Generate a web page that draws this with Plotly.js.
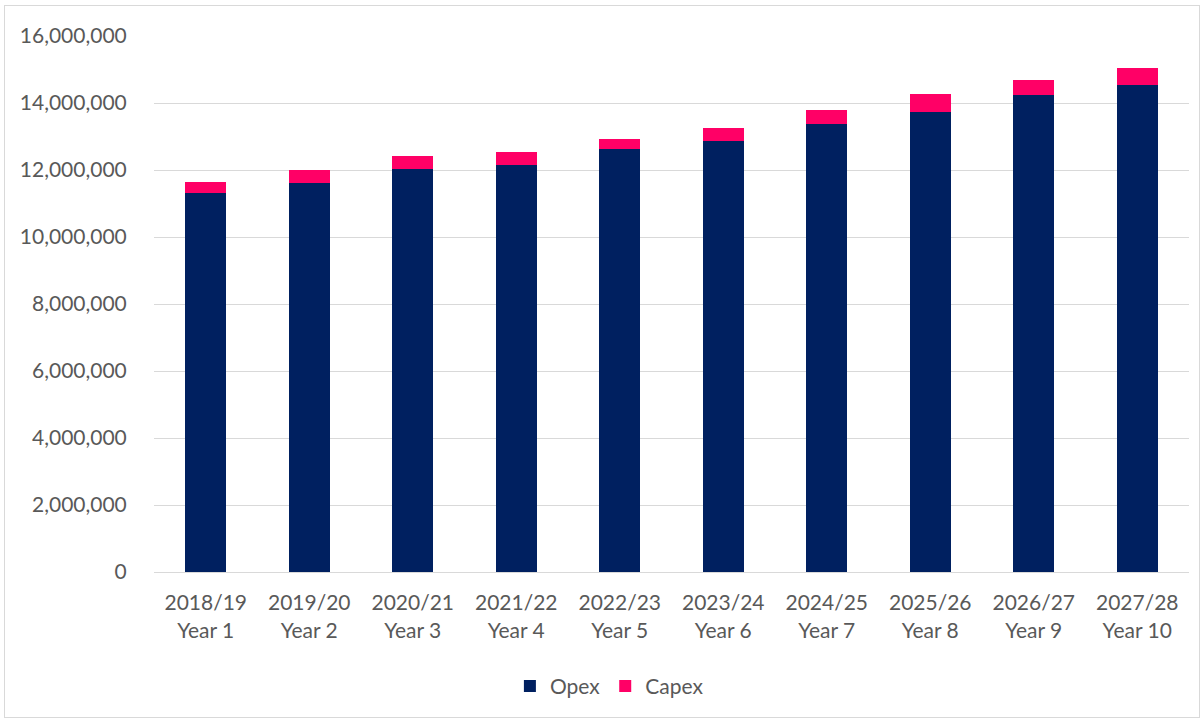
<!DOCTYPE html>
<html>
<head>
<meta charset="utf-8">
<script src="https://cdn.plot.ly/plotly-3.0.1.min.js"></script>
<style>
html,body{margin:0;padding:0;background:#fff;}
#chart{position:absolute;left:0;top:0;width:1203px;height:720px;}
#frame{position:absolute;left:4px;top:5px;width:1194px;height:711px;border:1px solid #d9d9d9;pointer-events:none;}
</style>
</head>
<body>
<div id="chart"></div>
<div id="frame"></div>
<script>
const categories = ["2018/19<br>Year 1","2019/20<br>Year 2","2020/21<br>Year 3","2021/22<br>Year 4","2022/23<br>Year 5","2023/24<br>Year 6","2024/25<br>Year 7","2025/26<br>Year 8","2026/27<br>Year 9","2027/28<br>Year 10"];
const opex = [11300000,11600000,12030000,12160000,12620000,12870000,13360000,13730000,14250000,14550000];
const capex = [350000,400000,390000,370000,300000,370000,420000,530000,430000,490000];
const yTicks = [0,2000000,4000000,6000000,8000000,10000000,12000000,14000000,16000000];

const font = {family:"Lato, 'Open Sans', sans-serif", size:21, color:"#595959"};
const data = [
  {type:"bar", name:"Opex", x:categories, y:opex, marker:{color:"#002060"}},
  {type:"bar", name:"Capex", x:categories, y:capex, marker:{color:"#FF0066"}}
];
const layout = {
  width:1203, height:720,
  barmode:"stack", bargap:0.6,
  margin:{l:154, r:14, t:36, b:148},
  paper_bgcolor:"rgba(0,0,0,0)", plot_bgcolor:"#fff",
  font:font,
  showlegend:true,
  legend:{orientation:"h", x:0.44, xanchor:"center", y:-0.175, yanchor:"top", font:font, traceorder:"normal", itemwidth:30},
  xaxis:{type:"category", tickfont:font, showgrid:false, showline:true, linecolor:"#d9d9d9", ticks:"outside", ticklen:12, tickcolor:"rgba(0,0,0,0)", automargin:false},
  yaxis:{range:[0,16000000], tickvals:yTicks, tickformat:",", tickfont:font, showgrid:true, gridcolor:"#d9d9d9", zeroline:false, showline:false, ticks:"outside", ticklen:22, tickcolor:"rgba(0,0,0,0)", automargin:false}
};
Plotly.newPlot("chart", data, layout, {displayModeBar:false, staticPlot:true});
</script>
</body>
</html>
